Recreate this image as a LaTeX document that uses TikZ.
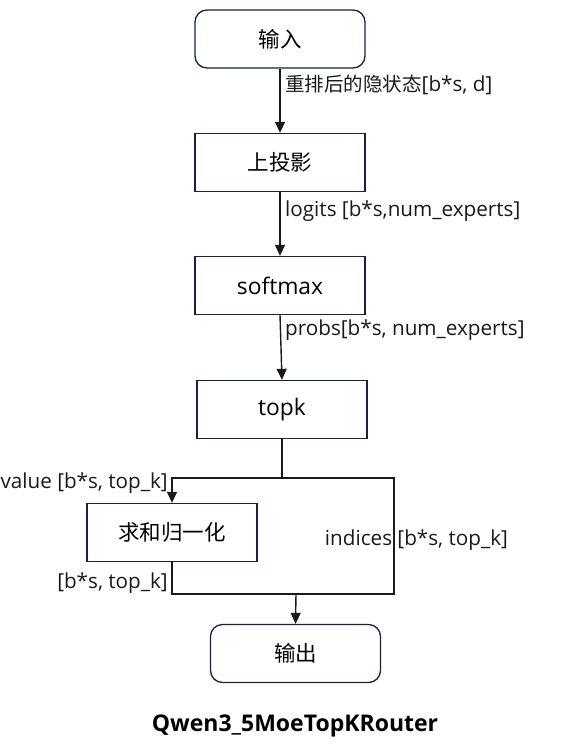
\documentclass[tikz,border=0pt]{standalone}
\usepackage{fontspec}
\setmainfont{Open Sans}[Scale=1.06]
\newfontfamily\cjk{Noto Sans CJK SC}
\usetikzlibrary{arrows.meta}
\definecolor{boxline}{HTML}{1B1F4B}
\definecolor{wire}{HTML}{1A1A1A}
\tikzset{
  stepbox/.style={draw=boxline, line width=1.3pt, minimum width=170pt, minimum height=58pt, inner sep=0pt, font=\fontsize{21.5}{24}\selectfont},
  termbox/.style={stepbox, rounded corners=12pt},
  wirel/.style={draw=wire, line width=1.4pt},
  arr/.style={wirel, -{Triangle[width=10pt,length=11pt]}},
  lbl/.style={inner sep=0pt, font=\fontsize{19.5}{22}\selectfont, text=black!90},
}
\begin{document}
\begin{tikzpicture}[x=1pt,y=-1pt]
\useasboundingbox (0,0) rectangle (567,746);
\node[termbox] (in) at (280,39) {\cjk 输入};
\node[stepbox] (proj) at (280,162.5) {\cjk 上投影};
\node[stepbox] (soft) at (280,285.5) {softmax};
\node[stepbox] (topk) at (282,409.5) {topk};
\node[stepbox] (norm) at (172,532.5) {\cjk 求和归一化};
\node[termbox] (out) at (295.5,653.5) {\cjk 输出};
\node[font=\fontsize{21.7}{26}\selectfont\bfseries] (title) at (295,726) {Qwen3\_5MoeTopKRouter};

\coordinate (jt) at (282,478);
\coordinate (tr) at (394,478);
\coordinate (br) at (394,594);
\coordinate (jb) at (296,594);

\draw[arr] (in.south) -- (proj.north);
\draw[arr] (proj.south) -- (soft.north);
\draw[arr] (soft.south) -- (topk.north);
\draw[wirel] (topk.south) -- (jt);
\draw[arr] (jt) -| (norm.north);
\draw[wirel] (jt) -- (tr) -- (br) -- (jb);
\draw[wirel] (norm.south) |- (jb);
\draw[arr] (jb) -- (out.north);

\node[lbl, anchor=west] (l1) at (285,85) {{\cjk 重排后的隐状态}[b*s, d]};
\node[lbl, anchor=west] (l2) at (285,211) {logits [b*s,num\_experts]};
\node[lbl, anchor=west] (l3) at (285,330) {probs[b*s, num\_experts]};
\node[lbl, anchor=east] (l4) at (168,483) {value [b*s, top\_k]};
\node[lbl, anchor=east] (l5) at (168,583) {[b*s, top\_k]};
\node[lbl] (l6) at (416.5,540) {indices [b*s, top\_k]};
\end{tikzpicture}
\end{document}
